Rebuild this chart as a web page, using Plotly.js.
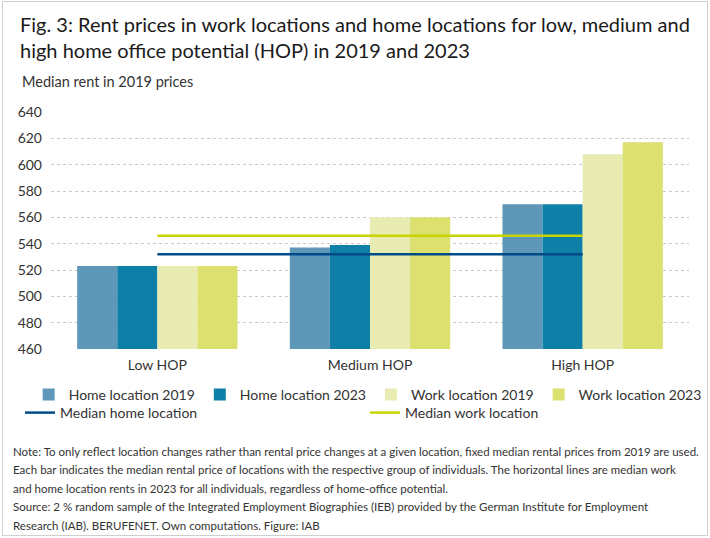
<!DOCTYPE html>
<html>
<head>
<meta charset="utf-8">
<script src="https://cdn.plot.ly/plotly-3.0.1.min.js"></script>
<style>
  body { margin: 0; background: #fff; }
  #frame { position: absolute; left: 2px; top: 1px; width: 704px; height: 533px; border: 1px solid #cfcfcf; pointer-events: none; }
  #chart { width: 710px; height: 538px; }
</style>
</head>
<body>
<div id="chart"></div>
<div id="frame"></div>
<script>
/////Data/////
const categories = ['Low HOP', 'Medium HOP', 'High HOP'];
const homeLocation2019 = [523, 537, 570];
const homeLocation2023 = [523, 539, 570];
const workLocation2019 = [523, 560, 608];
const workLocation2023 = [523, 560, 617];
const medianHome = [532, 532, 532];
const medianWork = [546, 546, 546];
const yTicks = [460, 480, 500, 520, 540, 560, 580, 600, 620, 640];

const noteLines = [
  'Note: To only reflect location changes rather than rental price changes at a given location, fixed median rental prices from 2019 are used.',
  'Each bar indicates the median rental price of locations with the respective group of individuals. The horizontal lines are median work',
  'and home location rents in 2023 for all individuals, regardless of home-office potential.',
  'Source: 2 % random sample of the Integrated Employment Biographies (IEB) provided by the German Institute for Employment',
  'Research (IAB). BERUFENET. Own computations. Figure: IAB'
];

const FONT = 'Lato, "Noto Sans", sans-serif';
const TXT = '#333333';

let chart = document.getElementById('chart');

function barTrace(name, y, color) {
  return {
    type: 'bar', x: categories, y: y, name: name,
    marker: {color: color}, legend: 'legend', hoverinfo: 'skip'
  };
}
function lineTrace(name, y, color) {
  return {
    type: 'scatter', mode: 'lines', x: categories, y: y, name: name,
    line: {color: color, width: 2.5}, legend: 'legend2', hoverinfo: 'skip'
  };
}

let traces = [
  barTrace('Home location 2019', homeLocation2019, '#5f97b8'),
  barTrace('Home location 2023', homeLocation2023, '#0e80a8'),
  barTrace('Work location 2019', workLocation2019, '#e8ecb3'),
  barTrace('Work location 2023', workLocation2023, '#dbe06e'),
  lineTrace('Median home location', medianHome, '#004b87'),
  lineTrace('Median work location', medianWork, '#c8d400')
];

// note lines spaced by hand, plotly line-height is too tight
let annotations = noteLines.map((t, i) => ({
  text: t, xref: 'paper', yref: 'paper', x: -0.062, xanchor: 'left',
  y: (349 - (451 + i * 18.5)) / 237, yanchor: 'middle', showarrow: false,
  align: 'left', font: {family: FONT, size: 11.5, color: TXT}
}));
annotations.push({
  text: 'Median rent in 2019 prices', xref: 'paper', yref: 'paper',
  x: -0.049, xanchor: 'left', y: (349 - 81) / 237, yanchor: 'middle',
  showarrow: false, font: {family: FONT, size: 14.5, color: TXT}
});

const layout = {
  width: 710, height: 538,
  margin: {l: 51, r: 21, t: 112, b: 189},
  paper_bgcolor: '#ffffff', plot_bgcolor: '#ffffff',
  font: {family: FONT, color: TXT, size: 14},
  title: {
    text: 'Fig. 3: Rent prices in work locations and home locations for low, medium and<br>high home office potential (HOP) in 2019 and 2023',
    xref: 'container', x: 20 / 710, xanchor: 'left',
    yref: 'container', y: 1 - 32 / 538, yanchor: 'top',
    font: {family: FONT, size: 20, color: '#1a1a1a'}
  },
  barmode: 'group', bargap: 0.246, bargroupgap: 0,
  xaxis: {
    type: 'category', showgrid: false, showline: false, zeroline: false,
    ticks: '', ticklabelstandoff: 6, tickfont: {size: 14, color: TXT}
  },
  yaxis: {
    range: [460, 640], tickvals: yTicks, showline: false, zeroline: false,
    gridcolor: '#c8c8c8', griddash: 'dot', gridwidth: 1,
    ticks: '', ticklabelstandoff: 8, tickfont: {size: 14, color: TXT}
  },
  showlegend: true,
  legend: {
    orientation: 'h', x: -0.035, xanchor: 'left', y: (349 - 379) / 237, yanchor: 'top',
    font: {size: 14, color: TXT}, itemwidth: 30, traceorder: 'normal', bgcolor: 'rgba(0,0,0,0)'
  },
  legend2: {
    orientation: 'h', x: -0.035, xanchor: 'left', y: (349 - 397) / 237, yanchor: 'top',
    font: {size: 14, color: TXT}, itemwidth: 30, entrywidth: 300, entrywidthmode: 'pixels',
    bgcolor: 'rgba(0,0,0,0)'
  },
  annotations: annotations
};

Plotly.newPlot(chart, traces, layout, {displayModeBar: false, staticPlot: true});
</script>
</body>
</html>
